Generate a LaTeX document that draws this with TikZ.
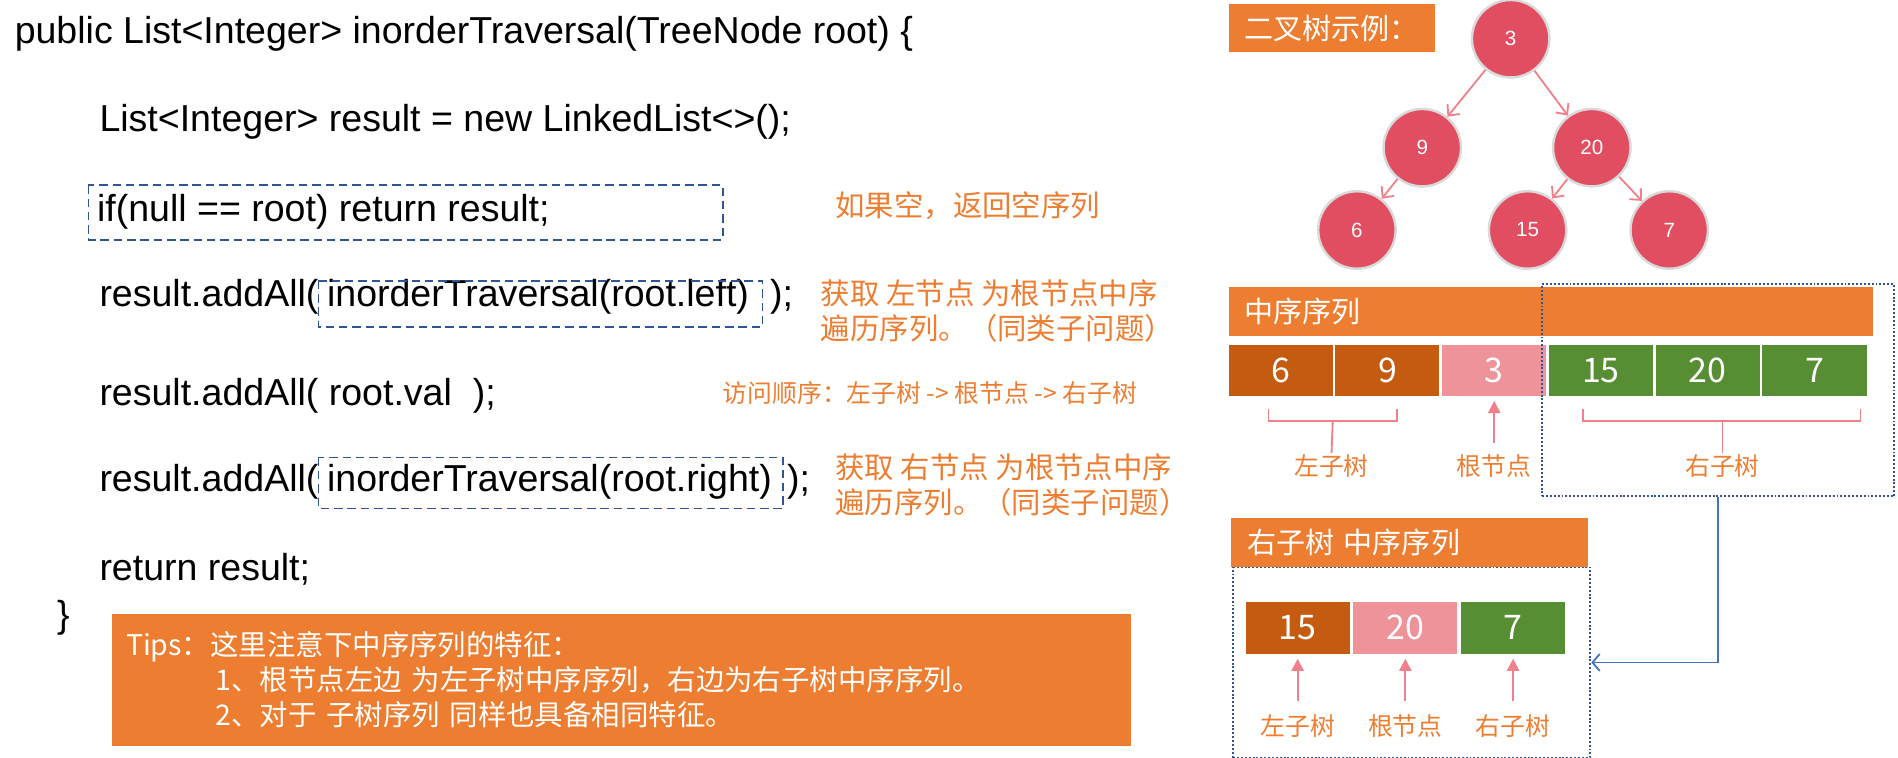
\documentclass[tikz,border=0pt]{standalone}
\usepackage{fontspec}
\setmainfont{Liberation Sans}
\newfontfamily\cjk{Noto Sans CJK SC}
\usetikzlibrary{arrows.meta,positioning,calc}

\definecolor{tiporange}{HTML}{ED7D31}
\definecolor{cellbrown}{HTML}{C55A11}
\definecolor{cellpink}{HTML}{EF939B}
\definecolor{cellgreen}{HTML}{578E33}
\definecolor{nodered}{HTML}{E24E61}
\definecolor{nodering}{HTML}{D9D9D9}
\definecolor{edgepink}{HTML}{F2808A}
\definecolor{dashblue}{HTML}{2F5597}
\definecolor{lineblue}{HTML}{4472C4}

\begin{document}
\begin{tikzpicture}[x=1pt,y=-1pt,
    code/.style={anchor=west,inner sep=0pt,font=\fontsize{31}{36}\selectfont},
    note/.style={anchor=west,inner sep=0pt,text=tiporange,align=left,font=\cjk\fontsize{24.3}{29}\selectfont},
    dashbox/.style={draw=dashblue,line width=1.4pt,dash pattern=on 7pt off 4pt},
    dotbox/.style={draw=dashblue,line width=1.6pt,dash pattern=on 1.6pt off 1.6pt,inner sep=0pt},
    tnode/.style={circle,fill=nodered,draw=nodering,line width=2pt,minimum size=64pt,inner sep=0pt,text=white,font=\fontsize{17}{20}\selectfont},
    tedge/.style={draw=edgepink,line width=1.5pt,-{Straight Barb[length=7pt,width=13pt]}},
    bar/.style={fill=tiporange,anchor=north west,inner xsep=13pt,inner ysep=0pt,minimum height=40pt,align=left,text=white,font=\cjk\fontsize{24}{28}\selectfont},
    cell/.style={minimum width=86pt,minimum height=42pt,inner sep=0pt,text=white,font=\cjk\fontsize{28}{30}\selectfont},
    lbl/.style={text=tiporange,inner sep=1pt,font=\cjk\fontsize{20.5}{24}\selectfont},
    brace/.style={draw=edgepink,line width=1.5pt},
    uparrow/.style={draw=edgepink,line width=1.8pt,-{Triangle[length=10pt,width=10pt]}},
]
\useasboundingbox (0,0) rectangle (1568,626);

% code
\node[code] (sig) at (12,28) {public List<Integer> inorderTraversal(TreeNode root) \{};
\node[code] (res) at (82,101) {List<Integer> result = new LinkedList<>();};
\node[code] (chk) at (80,175) {if(null == root) return result;};
\draw[dashbox] (73,153) rectangle (597,198);
\node[code] (addl) at (82,245) {result.addAll(};
\node[code] (lcall) at (270,245) {inorderTraversal(root.left)};
\node[code] (endl) at (636,245) {);};
\draw[dashbox] (263,232) rectangle (630,270);
\node[code] (addv) at (82,327) {result.addAll( root.val\ \ );};
\node[code] (addr) at (82,398) {result.addAll(};
\node[code] (rcall) at (270,398) {inorderTraversal(root.right)};
\node[code] (endr) at (650,398) {);};
\draw[dashbox] (263,378) rectangle (647,420);
\node[code] (ret) at (82,470) {return result;};
\node[code] (close) at (47,510) {\}};

% notes
\node[note] (n1) at (690,170) {如果空，返回空序列};
\node[note] (n2) at (678,257) {获取 左节点 为根节点中序\\遍历序列。（同类子问题）};
\node[note,font=\cjk\fontsize{20.5}{24}\selectfont] (n3) at (597,325) {访问顺序：左子树 -> 根节点 -> 右子树};
\node[note] (n4) at (690,401) {获取 右节点 为根节点中序\\遍历序列。（同类子问题）};

\node[fill=tiporange,anchor=north west,minimum width=842pt,minimum height=109pt,text width=818pt,inner xsep=12pt,
  align=left,text=white,font=\cjk\fontsize{23.5}{29}\selectfont] (tips) at (92,507)
  {Tips：这里注意下中序序列的特征：\\
   \hspace*{74pt}1、根节点左边 为左子树中序序列，右边为右子树中序序列。\\
   \hspace*{74pt}2、对于 子树序列 同样也具备相同特征。};

% tree
\node[bar,minimum width=170pt,text width=144pt,anchor=north west] (title) at (1015,3) {二叉树示例：};
\node[tnode] (t3) at (1248,32) {3};
\node[tnode] (t9) at (1175,122) {9};
\node[tnode] (t20) at (1315,122) {20};
\node[tnode] (t6) at (1121,190) {6};
\node[tnode] (t15) at (1262,190) {15};
\node[tnode] (t7) at (1379,190) {7};
\foreach \a/\b in {t3/t9,t3/t20,t9/t6,t20/t15,t20/t7}
  \draw[tedge] (\a) -- (\b);

% inorder
\node[bar,minimum width=532pt,text width=506pt] (seq) at (1015,237) {中序序列};
\foreach \i/\v/\c in {0/6/cellbrown,1/9/cellbrown,2/3/cellpink,3/15/cellgreen,4/20/cellgreen,5/7/cellgreen}
  \node[cell,fill=\c] (a\i) at ({1058+88.2*\i},306) {\v};
\node[lbl] (la) at (1100,385) {左子树};
\node[lbl] (ra) at (a2.south |- la) {根节点};
\node[lbl] (rt) at (1423,385) {右子树};
\draw[brace] (1048,338) -- (1048,348) -- (1154,348) -- (1154,338);
\draw[brace] (1101,348) -- (la.north);
\draw[brace] (1308,338) -- (1308,348) -- (1537,348) -- (1537,338);
\draw[brace] (1423,348) -- (rt.north);
\draw[uparrow,shorten <=8pt,shorten >=4pt] (ra.north) -- (a2.south);
\node[dotbox,minimum width=291pt,minimum height=175pt] (rbox) at (1419.5,322.5) {};

% right subtree
\node[bar,minimum width=295pt,text width=269pt] (sub) at (1017,428) {右子树 中序序列};
\node[dotbox,minimum width=295pt,minimum height=157pt,anchor=north west] (sbox) at (1018,468) {};
\foreach \i/\v/\c in {0/15/cellbrown,1/20/cellpink,2/7/cellgreen} {
  \node[cell,fill=\c,minimum height=43pt] (b\i) at ({1072+89*\i},518.5) {\v};
}
\foreach \i/\t in {0/左子树,1/根节点,2/右子树} {
  \node[lbl] (l\i) at (b\i.south |- 0,600) {\t};
  \draw[uparrow,shorten <=10pt,shorten >=4pt] (l\i.north) -- (b\i.south);
}
\draw[lineblue,line width=1.5pt,-{Straight Barb[length=6pt,width=14pt]}] (rbox.south) |- (sbox.east);
\end{tikzpicture}
\end{document}
